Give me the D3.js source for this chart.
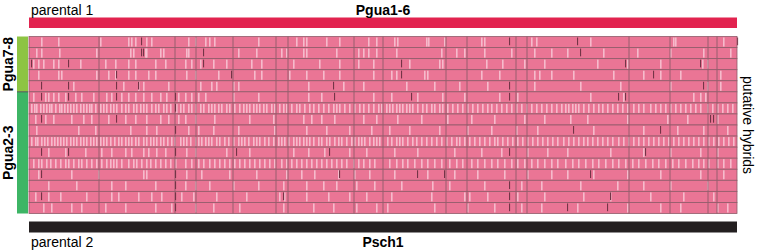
<!DOCTYPE html>
<html>
<head>
<meta charset="utf-8">
<script src="https://cdn.jsdelivr.net/npm/d3@7"></script>
<style>
  body { margin: 0; background: #fff; }
  text { font-family: "Liberation Sans", Arial, Helvetica, sans-serif; }
</style>
</head>
<body>
<script>
// parents and hybrid groups
var parent1 = "Pgua1-6", parent2 = "Psch1";
var groupNames = ["Pgua7-8", "Pgua2-3"];
var groupSizes = [5, 11];
var nMarkers = 708;

// marker index where a new scaffold block starts
var blockStarts = [70, 146, 167, 204, 247, 259, 325, 354, 417, 438, 487, 498, 600, 641, 679, 688];

// markers that look like parent 2 (light) in each hybrid row
var lightSites = [
  [12,29,71,99,102,106,117,122,159,166,176,180,185,229,267,274,277,297,310,339,347,365,368,397,399,415,452,455,502,507,561,644,646,694],
  [7,12,30,67,101,104,116,117,131,134,157,159,209,227,252,257,274,277,307,329,334,339,347,367,412,427,435,455,482,505,522,538,574,608,641,674,701],
  [4,9,14,24,29,51,76,86,99,106,126,136,156,162,171,184,197,222,232,264,290,310,329,344,380,410,413,457,473,495,515,568,598,631,673,678],
  [9,29,32,67,79,86,99,106,119,126,157,166,189,225,232,260,277,294,310,344,362,367,395,398,452,470,505,510,522,544,584,614,631,651,691],
  [44,94,109,114,139,171,182,187,204,209,279,314,334,377,405,430,458,505,551,591,641,678,691],
  [4,16,19,24,29,36,46,52,64,77,82,92,99,106,114,122,131,137,149,156,162,169,176,204,229,279,292,344,362,388,413,435,470,488,561,594,664,671,676],
  [2,5,7,11,14,17,20,22,26,30,32,35,38,41,44,47,51,54,57,60,62,66,71,74,77,81,84,87,92,96,99,104,107,111,114,117,122,126,129,134,137,141,147,151,154,159,162,166,171,174,
   179,182,185,189,192,197,200,205,210,214,217,220,224,227,230,234,237,242,245,250,254,257,262,267,270,275,280,284,289,294,299,304,307,310,315,320,325,330,334,339,344,349,352,
   357,360,363,367,370,373,377,380,383,388,393,397,402,405,410,413,418,423,428,433,438,443,448,453,458,462,467,472,477,482,487,492,497,502,507,512,517,522,527,532,
   536,539,543,546,549,554,559,564,569,573,578,583,588,593,598,604,609,614,621,626,631,636,641,646,651,656,661,666,671,678,683,688,693,698,703],
  [6,16,24,42,54,62,79,96,106,117,131,139,149,156,166,185,220,244,274,282,292,305,334,347,368,392,418,442,465,495,515,541,558,598,638,658,688],
  [7,49,66,101,117,127,159,169,184,209,245,277,297,320,342,360,380,410,438,462,487,508,564,614,648,674,698],
  [2,6,8,12,15,18,22,25,28,31,34,37,41,44,47,51,54,57,61,64,67,71,74,77,81,85,89,92,96,99,102,106,109,114,117,121,124,127,131,134,138,142,145,151,154,157,161,166,169,172,176,
   179,182,187,190,195,199,204,209,212,215,219,224,227,230,235,239,244,249,252,255,259,264,267,270,274,277,280,284,289,292,297,300,305,309,312,317,322,325,329,332,335,340,344,347,350,
   358,362,367,370,373,378,383,387,392,397,402,407,412,417,422,427,430,435,440,445,450,455,460,465,468,473,478,483,488,493,498,503,508,513,518,523,528,
   534,539,544,549,554,558,563,568,573,578,583,589,594,599,604,609,614,619,624,629,634,639,644,649,654,659,664,669,674,679,684,689,694,699,704],
  [19,36,56,72,82,96,102,114,119,127,136,157,166,197,220,264,279,295,320,337,365,388,425,452,472,498,518,538,581,614,641,671,688],
  [4,9,12,17,21,26,31,36,39,44,49,52,57,62,67,72,77,81,84,87,92,99,104,107,112,117,121,126,131,136,141,146,156,162,169,174,
   180,185,190,195,200,205,210,215,220,225,230,235,240,245,252,257,262,267,272,277,282,287,292,297,302,307,312,317,324,329,334,340,345,
   360,367,373,378,385,392,398,405,412,420,427,433,442,448,455,462,468,475,482,488,495,502,508,515,522,528,
   536,543,549,556,563,569,576,583,589,596,603,609,616,623,629,636,643,649,656,663,669,674,679,688,694,701],
  [9,42,69,114,117,157,172,200,227,257,272,285,309,325,340,365,398,425,448,475,498,522,538,564,598,631,671,694],
  [19,47,82,96,126,156,166,180,204,229,254,277,294,307,327,345,372,403,420,455,492,512,551,588,614,641,678],
  [6,19,31,57,82,89,109,122,132,152,164,187,217,250,255,277,299,320,337,362,402,435,440,458,488,515,554,581,621,654,684],
  [14,22,42,52,76,96,126,142,166,184,210,254,284,304,327,347,358,405,438,465,492,512,548,598,631,651,688,698]
];

// markers with a dark (missing / odd) call in each hybrid row
var darkSites = [
  [112,480,548,708],
  [112,114,174,551],
  [2,39,174,372,596,671],
  [87,202,372,624],
  [12,39,87,109,304,480,674],
  [12,39,87,146,305,382,480,589,596],
  [146],
  [12,87,681,684],
  [146,544,631],
  [],
  [12,39,146,207,300,480,616],
  [],
  [12,146,310,388,415,561],
  [146,480],
  [12,146,254,480,581],
  [146,480,538,578]
];

var W = 757, H = 252;
var margin = {top: 36.5, left: 29, right: 20, bottom: 38.5};

var svg = d3.select("body").append("svg")
    .attr("width", W)
    .attr("height", H);

var nRows = d3.sum(groupSizes);

// scales
var x = d3.scaleLinear()
    .domain([0, nMarkers])
    .range([margin.left, W - margin.right]);
var y = d3.scaleBand()
    .domain(d3.range(nRows))
    .range([margin.top, H - margin.bottom]);

var pink = "#ea7595", light = "#f7c3d2", dark = "#743447", edge = "#8f5b69";

// parental bars
svg.append("rect")
    .attr("x", x(0)).attr("y", 17.5)
    .attr("width", x(nMarkers) - x(0)).attr("height", 10.5)
    .attr("fill", "#e2234f");
svg.append("rect")
    .attr("x", x(0)).attr("y", 221.5)
    .attr("width", x(nMarkers) - x(0)).attr("height", 11)
    .attr("fill", "#231f20");

svg.append("text").attr("x", x(0) + 2).attr("y", 15).style("font-size", "14px").text("parental 1");
svg.append("text").attr("x", x(nMarkers / 2)).attr("y", 15).attr("text-anchor", "middle")
    .style("font-size", "14px").style("font-weight", "bold").text(parent1);
svg.append("text").attr("x", x(0) + 2).attr("y", 246.5).style("font-size", "14px").text("parental 2");
svg.append("text").attr("x", x(nMarkers / 2)).attr("y", 246.5).attr("text-anchor", "middle")
    .style("font-size", "14px").style("font-weight", "bold").text(parent2);

// rows
var rows = svg.selectAll(".row")
    .data(d3.range(nRows))
  .enter().append("g")
    .attr("class", "row")
    .attr("transform", function(d) { return "translate(0," + y(d) + ")"; });

rows.append("rect")
    .attr("x", x(0))
    .attr("width", x(nMarkers) - x(0))
    .attr("height", y.bandwidth())
    .attr("fill", pink);

rows.selectAll(".lt")
    .data(function(d) { return lightSites[d]; })
  .enter().append("rect")
    .attr("class", "lt")
    .attr("x", function(d) { return x(d); })
    .attr("y", 1)
    .attr("width", 1.6)
    .attr("height", y.bandwidth() - 2)
    .attr("fill", light)
    .attr("opacity", 0.9);

rows.selectAll(".blk")
    .data(blockStarts)
  .enter().append("line")
    .attr("x1", function(d) { return x(d); })
    .attr("x2", function(d) { return x(d); })
    .attr("y1", 0).attr("y2", y.bandwidth())
    .attr("stroke", edge).attr("stroke-width", 0.9);

rows.selectAll(".dk")
    .data(function(d) { return darkSites[d]; })
  .enter().append("rect")
    .attr("class", "dk")
    .attr("x", function(d) { return x(d); })
    .attr("y", 1)
    .attr("width", 1.1)
    .attr("height", y.bandwidth() * 0.7)
    .attr("fill", dark);

rows.append("rect")
    .attr("x", x(0))
    .attr("width", x(nMarkers) - x(0))
    .attr("height", y.bandwidth())
    .attr("fill", "none")
    .attr("stroke", edge)
    .attr("stroke-width", 0.8);

// hybrid group bars on the left
var groupColors = ["#8dc443", "#3db565"];
var starts = [0, groupSizes[0]];
groupNames.forEach(function(name, i) {
  var y0 = y(starts[i]), y1 = y(starts[i] + groupSizes[i] - 1) + y.bandwidth();
  svg.append("rect")
      .attr("x", 17).attr("y", y0)
      .attr("width", 11).attr("height", y1 - y0)
      .attr("fill", groupColors[i]);
  svg.append("text")
      .attr("transform", "translate(13," + ((y0 + y1) / 2) + ") rotate(-90)")
      .attr("text-anchor", "middle")
      .style("font-size", "14px").style("font-weight", "bold")
      .text(name);
});
svg.append("line")
    .attr("x1", 17).attr("x2", 28)
    .attr("y1", y(groupSizes[0])).attr("y2", y(groupSizes[0]))
    .attr("stroke", "#555").attr("stroke-width", 1);

svg.append("text")
    .attr("transform", "translate(743," + ((y(0) + y(nRows - 1) + y.bandwidth()) / 2) + ") rotate(90)")
    .attr("text-anchor", "middle")
    .style("font-size", "14px")
    .text("putative hybrids");
</script>
</body>
</html>
